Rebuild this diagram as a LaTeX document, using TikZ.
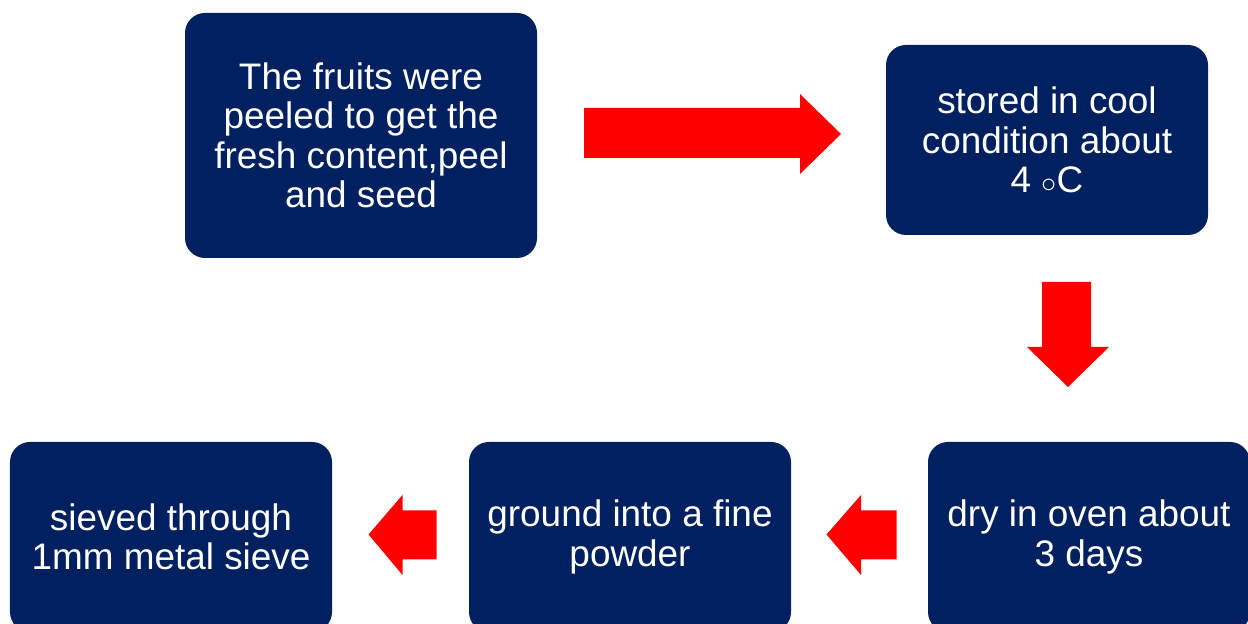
\documentclass[tikz,border=0pt]{standalone}
\usepackage{fontspec}
\setmainfont{Liberation Sans}
\usepackage{tikz}
\definecolor{boxblue}{HTML}{002060}
\definecolor{arrowred}{HTML}{FF0000}
\tikzstyle{stepbox}=[rectangle, rounded corners=.4cm, fill=boxblue, text=white, align=center, inner sep=0mm, minimum width=6.44cm, minimum height=3.8cm, font=\fontsize{21}{22.4}\selectfont]
\tikzstyle{blockarrow}=[fill=arrowred]

\begin{document}
\begin{tikzpicture}
    \useasboundingbox (0,0) rectangle (24.96,12.48);
    \clip (0,0) rectangle (24.96,12.48);

    \node[stepbox, minimum width=7.04cm, minimum height=4.9cm] (peel) at (7.22,9.77) {The fruits were\\peeled to get the\\fresh content,peel\\and seed};
    \node[stepbox] (store) at (20.94,9.68) {stored in cool\\condition about\\4 {\fontsize{16}{16}\selectfont$\circ$}C};
    \node[stepbox] (dry) at (21.78,1.74) {dry in oven about\\3 days};
    \node[stepbox] (ground) at (12.60,1.74) {ground into a fine\\powder};
    \node[stepbox] (sieve) at (3.42,1.74) {sieved through\\1mm metal sieve};

    % peel -> store
    \fill[blockarrow] (11.68,9.32) -- (11.68,10.32) -- (16.00,10.32) -- (16.00,10.60)
      -- (16.82,9.80) -- (16.00,9.00) -- (16.00,9.32) -- cycle;
    % store -> dry
    \fill[blockarrow] (20.84,6.84) -- (21.82,6.84) -- (21.82,5.54) -- (22.18,5.54)
      -- (21.36,4.74) -- (20.54,5.54) -- (20.84,5.54) -- cycle;
    % dry -> ground, ground -> sieve
    \foreach \tip/\base/\back in {16.53/17.22/17.93, 7.37/8.05/8.73}
      \fill[blockarrow] (\back,1.29) -- (\back,2.27) -- (\base,2.27) -- (\base,2.58)
        -- (\tip,1.79) -- (\base,0.98) -- (\base,1.29) -- cycle;
\end{tikzpicture}
\end{document}
